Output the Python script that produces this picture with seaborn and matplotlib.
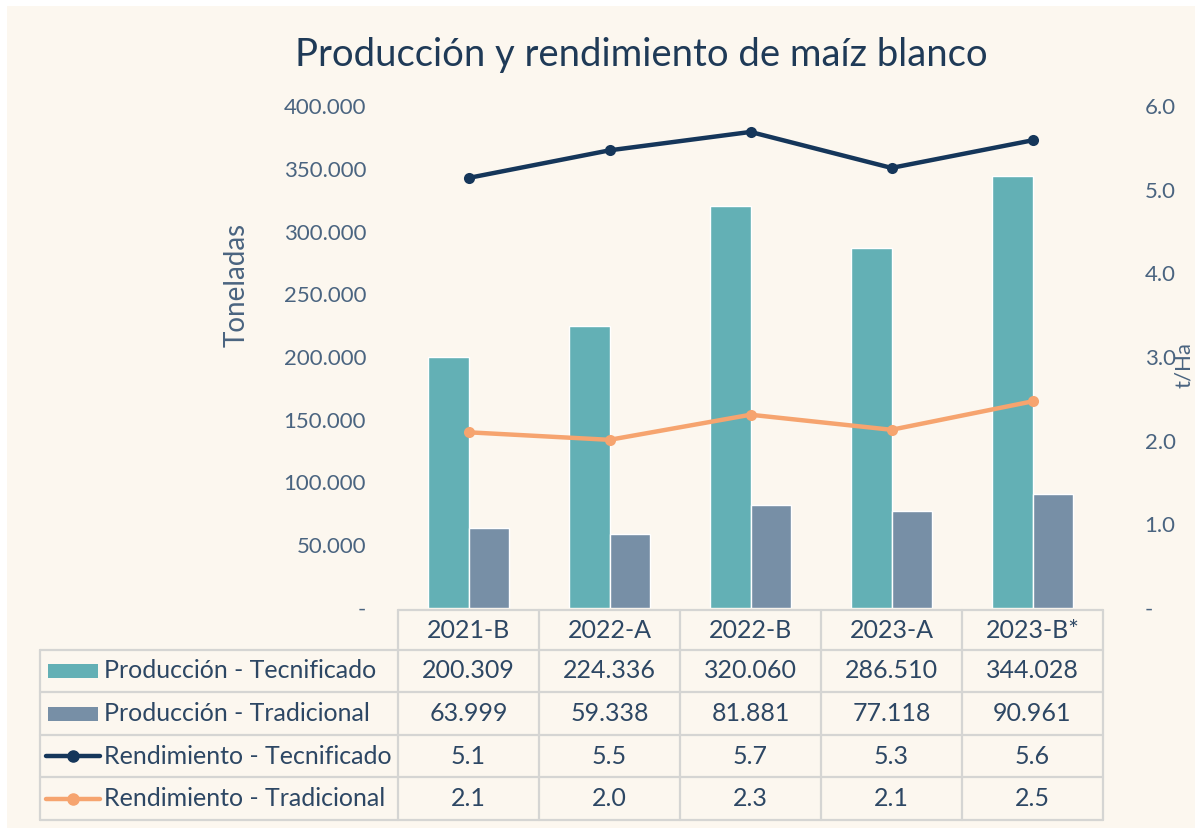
# Producción y rendimiento de maíz blanco
import numpy as np
import pandas as pd
import matplotlib
matplotlib.use("Agg")
import matplotlib.pyplot as plt
import seaborn as sns

# Datos
periodos = ["2021-B", "2022-A", "2022-B", "2023-A", "2023-B*"]
prod_tecnificado = [200309, 224336, 320060, 286510, 344028]
prod_tradicional = [63999, 59338, 81881, 77118, 90961]
rend_tecnificado = [5.14, 5.47, 5.69, 5.26, 5.59]
rend_tradicional = [2.10, 2.01, 2.31, 2.13, 2.47]
series = ["Producción - Tecnificado", "Producción - Tradicional",
          "Rendimiento - Tecnificado", "Rendimiento - Tradicional"]

# Colores
bg = "#fcf7ef"
c_teal = "#63b0b5"
c_gray = "#778fa6"
c_navy = "#15365a"
c_orange = "#f6a46f"
c_text = "#4a6480"
c_table = "#2d4764"
c_grid = "#d5d5d3"

sns.set_style("white")
plt.rcParams["font.family"] = ["Lato", "DejaVu Sans"]

W, H = 1195, 832
fig = plt.figure(figsize=(W / 100, H / 100), dpi=100, facecolor="white")

# capa de fondo en pixeles
bgax = fig.add_axes([0, 0, 1, 1], zorder=0)
bgax.set_xlim(0, W)
bgax.set_ylim(H, 0)
bgax.axis("off")
bgax.add_patch(plt.Rectangle((7, 6), W - 7, 822, color=bg, lw=0))

# Grafico principal
x0, x1, ytop, ybot = 398, 1103, 106, 608
ax = fig.add_axes([x0 / W, 1 - ybot / H, (x1 - x0) / W, (ybot - ytop) / H], zorder=2)
ax.patch.set_alpha(0)

df = pd.DataFrame({
    "periodo": periodos * 2,
    "valor": prod_tecnificado + prod_tradicional,
    "serie": [series[0]] * 5 + [series[1]] * 5,
})
sns.barplot(data=df, x="periodo", y="valor", hue="serie", palette=[c_teal, c_gray],
            width=0.57, ax=ax, legend=False, saturation=1)
ax.set_xlim(-0.5, 4.5)
ax.set_ylim(0, 400000)
ax.set_yticks(range(0, 400001, 50000))
ax.set_yticklabels(["-"] + [f"{v:,}".replace(",", ".") for v in range(50000, 400001, 50000)])
ax.tick_params(axis="y", length=0, pad=23, labelsize=16, labelcolor=c_text)
ax.set_xticks([])
ax.set_xlabel("")
ax.set_ylabel("")
for s in ax.spines.values():
    s.set_visible(False)

ax2 = ax.twinx()
ax2.patch.set_alpha(0)
xs = np.arange(len(periodos))
sns.lineplot(x=xs, y=rend_tecnificado, ax=ax2, color=c_navy, lw=3.2, marker="o",
             markersize=8, markeredgewidth=0)
sns.lineplot(x=xs, y=rend_tradicional, ax=ax2, color=c_orange, lw=3.2, marker="o",
             markersize=8, markeredgewidth=0)
ax2.set_ylim(0, 6)
ax2.set_yticks(range(0, 7))
ax2.set_yticklabels(["-"] + [f"{v:.1f}" for v in range(1, 7)])
ax2.tick_params(axis="y", length=0, pad=30, labelsize=16, labelcolor=c_text)
ax2.set_ylabel("")
for s in ax2.spines.values():
    s.set_visible(False)

# Titulos y ejes
fig.text(641 / W, 1 - 55 / H, "Producción y rendimiento de maíz blanco",
         ha="center", va="center", fontsize=27.5, color="#1f3a57")
fig.text(237 / W, 1 - 285 / H, "Toneladas", rotation=90, ha="center", va="center",
         fontsize=20, color=c_text)
fig.text(1184 / W, 1 - 365 / H, "t/Ha", rotation=90, ha="center", va="center",
         fontsize=16, color=c_text)

# Tabla de datos
tab = fig.add_axes([0, 0, 1, 1], zorder=3)
tab.set_xlim(0, W)
tab.set_ylim(H, 0)
tab.axis("off")
tab.patch.set_alpha(0)

col_w = (x1 - x0) / len(periodos)
rows_y = [610, 650, 692, 735, 777, 820]
lx = 40
lw_t = 1.6
# lineas horizontales
tab.plot([x0, x1], [rows_y[0]] * 2, color=c_grid, lw=lw_t)
for yy in rows_y[1:]:
    tab.plot([lx, x1], [yy] * 2, color=c_grid, lw=lw_t)
# lineas verticales
for i in range(len(periodos) + 1):
    tab.plot([x0 + i * col_w] * 2, [rows_y[0], rows_y[-1]], color=c_grid, lw=lw_t)
tab.plot([lx, lx], [rows_y[1], rows_y[-1]], color=c_grid, lw=lw_t)

fs = 18
for i, p in enumerate(periodos):
    cx = x0 + (i + 0.5) * col_w
    tab.text(cx, (rows_y[0] + rows_y[1]) / 2, p, ha="center", va="center", fontsize=fs, color=c_table)

valores = [
    [f"{v:,}".replace(",", ".") for v in prod_tecnificado],
    [f"{v:,}".replace(",", ".") for v in prod_tradicional],
    [f"{v:.1f}" for v in rend_tecnificado],
    [f"{v:.1f}" for v in rend_tradicional],
]
colores = [c_teal, c_gray, c_navy, c_orange]
for r in range(4):
    cy = (rows_y[r + 1] + rows_y[r + 2]) / 2
    for i in range(len(periodos)):
        cx = x0 + (i + 0.5) * col_w
        tab.text(cx, cy, valores[r][i], ha="center", va="center", fontsize=fs, color=c_table)
    # clave de leyenda
    if r < 2:
        tab.add_patch(plt.Rectangle((48, cy - 7), 50, 14, color=colores[r], lw=0))
    else:
        tab.plot([46, 100], [cy, cy], color=colores[r], lw=3.2, solid_capstyle="round")
        tab.plot([73], [cy], marker="o", markersize=8, color=colores[r])
    tab.text(104, cy, series[r], ha="left", va="center", fontsize=fs, color=c_table)

plt.savefig("out.png", dpi=100, facecolor=fig.get_facecolor())
print("Graph saved successfully")
